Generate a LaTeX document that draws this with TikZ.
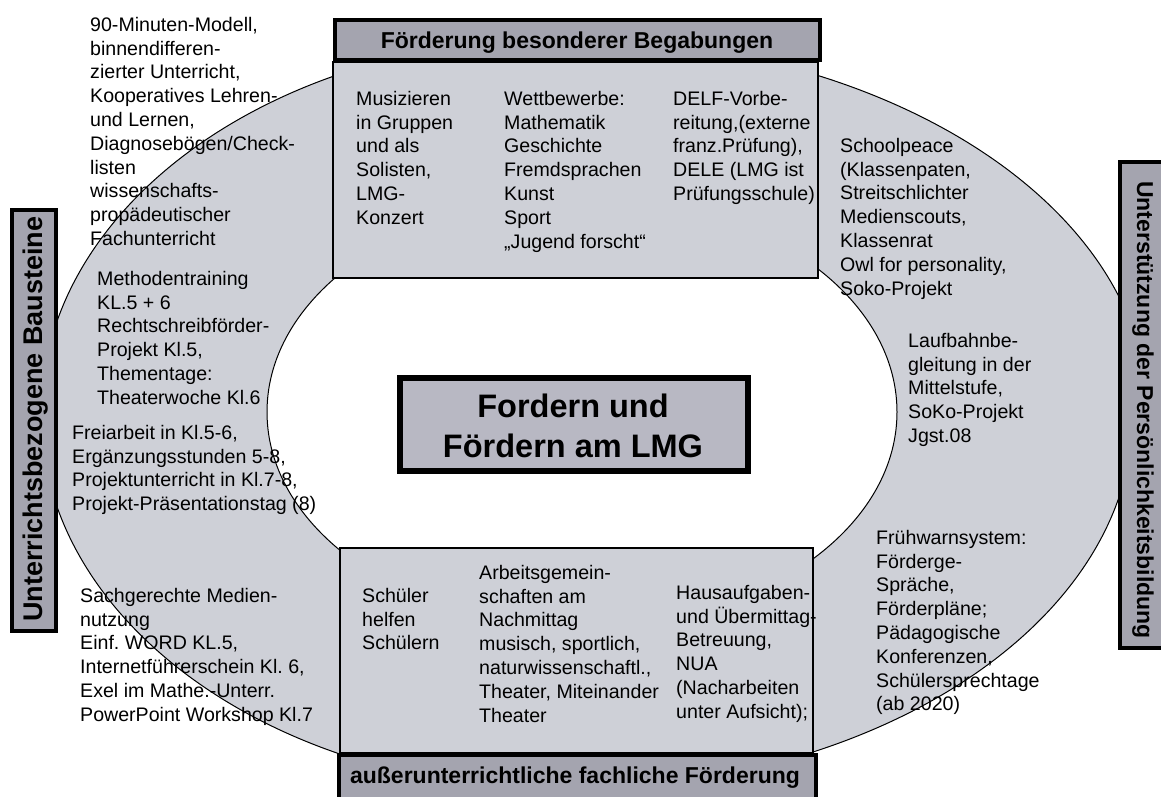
\documentclass[tikz,border=0pt]{standalone}
\usepackage{fontspec}
\setmainfont{Liberation Sans}
\frenchspacing
\definecolor{ringgray}{RGB}{206,208,215}
\definecolor{headgray}{RGB}{164,164,175}
\definecolor{titlegray}{RGB}{184,184,195}
\newcommand{\topstrut}{\rule{0pt}{16pt}}
\begin{document}
\begin{tikzpicture}[x=1pt,y=-1pt,
  ringfill/.style={fill=ringgray,draw=black,line width=1pt},
  bodybox/.style={fill=ringgray,draw=black,line width=1.2pt},
  headbox/.style={fill=headgray,draw=black,line width=4pt},
  headtext/.style={font=\fontsize{23}{26}\selectfont\bfseries,inner sep=0pt},
  txt/.style={anchor=north west,inner sep=0pt,align=left,font=\fontsize{19.6}{23.8}\selectfont}]
\fill[white] (0,0) rectangle (1161,796);
\useasboundingbox (0,0) rectangle (1161,796);

% outer ring
\path[ringfill] (563,38)
  arc[start angle=270,end angle=180,x radius=522,y radius=376]
  arc[start angle=180,end angle=90,x radius=522,y radius=376]
  arc[start angle=90,end angle=0,x radius=570,y radius=376]
  -- (1148,414)
  arc[start angle=0,end angle=-90,x radius=585,y radius=376] -- cycle;
% inner hole
\path[fill=white,draw=black,line width=1pt] (582,412) ellipse[x radius=315,y radius=216];

% top segment
\path[bodybox] (333,62) rectangle (818,278);
\path[headbox] (335,20) rectangle (820,60);
\node[headtext,anchor=base] (topHead) at (577,48) {Förderung besonderer Begabungen};

% bottom segment
\path[bodybox] (340,548) rectangle (813,753);
\path[headbox] (339,755) rectangle (816,812);
\node[headtext,anchor=base] (botHead) at (575,783) {außerunterrichtliche fachliche Förderung};

% centre title
\path[fill=titlegray,draw=black,line width=6pt] (400,378) rectangle (748,471);
\node[anchor=north,inner sep=0pt,align=center,font=\fontsize{32.5}{40}\selectfont\bfseries] (title) at (573,390)
  {\rule{0pt}{27pt}Fordern und\\Fördern am LMG};

% side labels
\path[headbox] (12,210) rectangle (56,631);
\node[rotate=90,inner sep=0pt,font=\fontsize{27}{30}\selectfont\bfseries] (leftLabel) at (36,419) {Unterrichtsbezogene Bausteine};
\path[headbox] (1120,162) rectangle (1176,648);
\node[rotate=-90,inner sep=0pt,font=\fontsize{23}{26}\selectfont\bfseries] (rightLabel) at (1143,410) {Unterstützung der Persönlichkeitsbildung};

% left side texts
\node[txt] (lessonA) at (90,15) {\topstrut 90-Minuten-Modell,\\binnendifferen-\\zierter Unterricht,\\Kooperatives Lehren-\\und Lernen,\\Diagnosebögen/Check-\\listen\\wissenschafts-\\propädeutischer\\Fachunterricht};
\node[txt] (lessonB) at (97,269) {\topstrut Methodentraining\\KL.5 + 6\\Rechtschreibförder-\\Projekt Kl.5,\\Thementage:\\Theaterwoche Kl.6};
\node[txt] (lessonC) at (72,423) {\topstrut Freiarbeit in Kl.5-6,\\Ergänzungsstunden 5-8,\\Projektunterricht in Kl.7-8,\\Projekt-Präsentationstag (8)};
\node[txt] (lessonD) at (80,586) {\topstrut Sachgerechte Medien-\\nutzung\\Einf. WORD KL.5,\\Internetführerschein Kl. 6,\\Exel im Mathe.-Unterr.\\PowerPoint Workshop Kl.7};

% top segment texts
\node[txt] (giftA) at (356,89) {\topstrut Musizieren\\in Gruppen\\und als\\Solisten,\\LMG-\\Konzert};
\node[txt] (giftB) at (504,89) {\topstrut Wettbewerbe:\\Mathematik\\Geschichte\\Fremdsprachen\\Kunst\\Sport\\„Jugend forscht“};
\node[txt] (giftC) at (673,89) {\topstrut DELF-Vorbe-\\reitung,(externe\\franz.Prüfung),\\DELE (LMG ist\\Prüfungsschule)};

% right side texts
\node[txt] (personA) at (840,136) {\topstrut Schoolpeace\\(Klassenpaten,\\Streitschlichter\\Medienscouts,\\Klassenrat\\Owl for personality,\\Soko-Projekt};
\node[txt] (personB) at (908,331) {\topstrut Laufbahnbe-\\gleitung in der\\Mittelstufe,\\SoKo-Projekt\\Jgst.08};
\node[txt] (personC) at (876,528) {\topstrut Frühwarnsystem:\\Förderge-\\Spräche,\\Förderpläne;\\Pädagogische\\Konferenzen,\\Schülersprechtage\\(ab 2020)};

% bottom segment texts
\node[txt] (extraA) at (362,586) {\topstrut Schüler\\helfen\\Schülern};
\node[txt] (extraB) at (479,563) {\topstrut Arbeitsgemein-\\schaften am\\Nachmittag\\musisch, sportlich,\\naturwissenschaftl.,\\Theater, Miteinander\\Theater};
\node[txt] (extraC) at (676,583) {\topstrut Hausaufgaben-\\und Übermittag-\\Betreuung,\\NUA\\(Nacharbeiten\\unter Aufsicht);};
\end{tikzpicture}
\end{document}
